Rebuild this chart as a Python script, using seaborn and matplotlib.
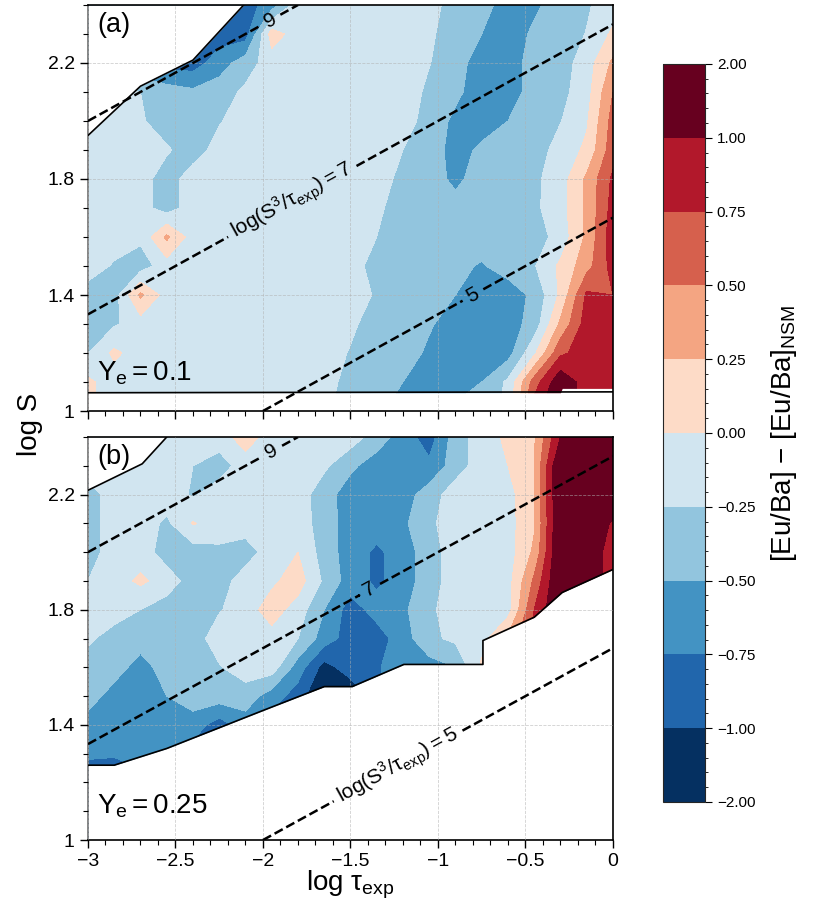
import numpy as np
import matplotlib
matplotlib.use("Agg")
import matplotlib.pyplot as plt
import seaborn as sns
from matplotlib.colors import ListedColormap, BoundaryNorm
from matplotlib.ticker import MultipleLocator, FixedLocator, FuncFormatter

# ---------------- data ----------------
log_tau = [-3.0, -2.85, -2.7, -2.55, -2.4, -2.25, -2.1, -1.95, -1.8, -1.65, -1.5,
           -1.35, -1.2, -1.05, -0.9, -0.75, -0.6, -0.45, -0.3, -0.15, 0.0]
log_S = [1.0, 1.1, 1.2, 1.3, 1.4, 1.5, 1.6, 1.7, 1.8, 1.9, 2.0, 2.1, 2.2, 2.3, 2.4]

# [Eu/Ba] - [Eu/Ba]_NSM, Ye = 0.1 ; rows from log S = 2.4 (top) down to 1.0
eu_ba_ye010_rows = [
    [-0.62,-0.62,-0.62,-0.62,-0.75,-0.87,-0.87,-0.62,-0.12,-0.12,-0.12,-0.12,-0.12,-0.12,-0.40,-0.40,-0.62,-0.55,-0.37,-0.28,-0.12],
    [-0.62,-0.62,-0.62,-0.75,-0.87,-0.87,-0.87, 0.12,-0.12,-0.12,-0.12,-0.12,-0.12,-0.20,-0.40,-0.50,-0.65,-0.45,-0.37,-0.24, 0.05],
    [-0.62,-0.62,-0.75,-0.87,-0.87,-0.62,-0.37,-0.12,-0.12,-0.12,-0.12,-0.12,-0.12,-0.24,-0.40,-0.62,-0.62,-0.40,-0.37,-0.12, 0.30],
    [-0.12,-0.12,-0.25,-0.37,-0.45,-0.37,-0.20,-0.12,-0.12,-0.12,-0.12,-0.12,-0.12,-0.30,-0.45,-0.62,-0.62,-0.40,-0.33,-0.10, 0.50],
    [-0.12,-0.12,-0.22,-0.37,-0.37,-0.27,-0.12,-0.12,-0.12,-0.12,-0.12,-0.12,-0.12,-0.37,-0.55,-0.62,-0.50,-0.37,-0.26,-0.03, 0.60],
    [-0.12,-0.12,-0.12,-0.22,-0.37,-0.15,-0.12,-0.12,-0.12,-0.12,-0.12,-0.12,-0.25,-0.37,-0.60,-0.45,-0.37,-0.37,-0.15, 0.05, 0.65],
    [-0.12,-0.12,-0.15,-0.37,-0.12,-0.12,-0.12,-0.12,-0.12,-0.12,-0.12,-0.12,-0.33,-0.40,-0.55,-0.40,-0.37,-0.30,-0.12, 0.30, 0.80],
    [-0.12,-0.12,-0.15,-0.37,-0.12,-0.12,-0.12,-0.12,-0.12,-0.12,-0.12,-0.20,-0.37,-0.40,-0.42,-0.40,-0.37,-0.30,-0.10, 0.30, 0.85],
    [-0.12,-0.12,-0.20, 0.30,-0.12,-0.12,-0.12,-0.12,-0.12,-0.12,-0.12,-0.25,-0.37,-0.42,-0.42,-0.40,-0.37,-0.37,-0.15, 0.30, 0.90],
    [-0.12,-0.28,-0.37,-0.12,-0.12,-0.12,-0.12,-0.12,-0.12,-0.12,-0.12,-0.37,-0.37,-0.42,-0.45,-0.52,-0.40,-0.27, 0.05, 0.40, 0.85],
    [-0.37,-0.37, 0.30,-0.12,-0.12,-0.12,-0.12,-0.12,-0.12,-0.12,-0.12,-0.28,-0.37,-0.40,-0.50,-0.62,-0.62,-0.45, 0.05, 0.80, 0.75],
    [-0.37,-0.28,-0.12,-0.12,-0.12,-0.12,-0.12,-0.12,-0.12,-0.12,-0.20,-0.37,-0.40,-0.47,-0.62,-0.65,-0.62,-0.40, 0.30, 0.87, 0.80],
    [-0.25, 0.05,-0.12,-0.12,-0.12,-0.12,-0.12,-0.12,-0.12,-0.12,-0.27,-0.37,-0.37,-0.55,-0.62,-0.62,-0.60,-0.05, 0.70, 0.87, 0.75],
    [ 0.05,-0.12,-0.12,-0.12,-0.12,-0.12,-0.12,-0.12,-0.12,-0.12,-0.37,-0.37,-0.50,-0.62,-0.62,-0.50,-0.20, 0.62, 1.20, 0.87, 0.87],
    [ 0.05,-0.12,-0.12,-0.12,-0.12,-0.12,-0.12,-0.12,-0.12,-0.20,-0.37,-0.45,-0.62,-0.62,-0.45,-0.37,-0.20, 0.90, 1.30, 0.87, 0.87],
]

# [Eu/Ba] - [Eu/Ba]_NSM, Ye = 0.25 ; rows from log S = 2.4 (top) down to 1.0
eu_ba_ye025_rows = [
    [-0.12,-0.12,-0.12,-0.12,-0.12,-0.12, 0.12,-0.12,-0.12,-0.12,-0.12,-0.37,-0.62,-0.87,-0.37,-0.12, 0.05, 0.22, 1.00, 1.30, 1.30],
    [-0.12,-0.12,-0.12,-0.12,-0.25,-0.37,-0.12,-0.12,-0.12,-0.20,-0.45,-0.62,-0.62,-0.70,-0.37,-0.12, 0.00, 0.25, 1.30, 1.30, 1.30],
    [-0.37,-0.12,-0.12,-0.12,-0.28,-0.12,-0.12,-0.12,-0.12,-0.40,-0.62,-0.62,-0.62,-0.37,-0.12,-0.12,-0.10, 0.25, 1.30, 1.30, 1.30],
    [-0.37,-0.12,-0.12,-0.30, 0.02,-0.12,-0.12,-0.12,-0.12,-0.37,-0.62,-0.62,-0.55,-0.30,-0.12,-0.12,-0.10, 0.22, 1.30, 1.30, 0.95],
    [-0.37,-0.12,-0.12,-0.37,-0.37,-0.30,-0.37,-0.12, 0.00,-0.37,-0.62,-0.80,-0.62,-0.37,-0.12,-0.12,-0.12, 0.30, 1.30, 1.30, 0.80],
    [-0.25,-0.12, 0.05,-0.12,-0.37,-0.37,-0.12,-0.05, 0.12,-0.30,-0.62,-0.80,-0.62,-0.37,-0.12,-0.12,-0.10, 0.55, 1.30, 1.30, 0.80],
    [-0.12,-0.12,-0.25,-0.37,-0.37,-0.27,-0.12, 0.12,-0.12,-0.50,-0.87,-0.65,-0.55,-0.30,-0.12,-0.12,-0.10, 0.75, 1.30, 1.30, 1.30],
    [-0.20,-0.37,-0.37,-0.37,-0.37,-0.12,-0.12,-0.10,-0.25,-0.62,-0.87,-0.87,-0.62,-0.30,-0.20,-0.10, 0.30, 0.85, 1.30, 1.30, 1.30],
    [-0.37,-0.37,-0.62,-0.37,-0.37,-0.27,-0.12,-0.12,-0.62,-1.10,-0.87,-0.80,-0.50,-0.62,-0.50, 0.05, 0.37, 0.87, 1.30, 1.30, 1.30],
    [-0.37,-0.62,-0.62,-0.50,-0.37,-0.37,-0.37,-0.62,-0.87,-1.30,-1.20,-0.87,-0.50,-0.62,-0.50, 0.05, 0.37, 0.87, 1.30, 1.30, 1.30],
    [-0.62,-0.62,-0.62,-0.62,-0.62,-0.87,-0.62,-0.87,-0.87,-1.20,-0.95,-0.87,-0.60,-0.60,-0.50, 0.05, 0.37, 0.87, 1.30, 1.30, 1.30],
    [-0.70,-0.72,-0.62,-0.62,-0.87,-0.87,-0.87,-0.87,-0.87,-0.95,-0.95,-0.87,-0.60,-0.60,-0.50, 0.05, 0.37, 0.87, 1.30, 1.30, 1.30],
    [-0.95,-0.95,-0.87,-0.87,-0.87,-0.87,-0.87,-0.87,-0.87,-0.95,-0.95,-0.87,-0.60,-0.60,-0.50, 0.05, 0.37, 0.87, 1.30, 1.30, 1.30],
    [-0.95,-0.95,-0.87,-0.87,-0.87,-0.87,-0.87,-0.87,-0.87,-0.95,-0.95,-0.87,-0.60,-0.60,-0.50, 0.05, 0.37, 0.87, 1.30, 1.30, 1.30],
    [-0.95,-0.95,-0.87,-0.87,-0.87,-0.87,-0.87,-0.87,-0.87,-0.95,-0.95,-0.87,-0.60,-0.60,-0.50, 0.05, 0.37, 0.87, 1.30, 1.30, 1.30],
]

# simulated-domain boundaries (outside = no data)
a_top_x = [-3.0, -2.70, -2.40, -2.11]
a_top_y = [1.95, 2.12, 2.21, 2.40]
a_bot_x = [-3.0, -0.30, -0.29, 0.0]
a_bot_y = [1.063, 1.063, 1.078, 1.078]
a_line_x = [-3.0, 0.0]
a_line_y = [1.063, 1.066]

b_top_x = [-3.0, -2.69, -2.55]
b_top_y = [2.215, 2.307, 2.40]
b_bot_x = [-3.0, -2.85, -2.55, -2.0, -1.65, -1.49, -1.195, -0.743, -0.743, -0.45, -0.29, 0.0]
b_bot_y = [1.26, 1.26, 1.318, 1.45, 1.533, 1.533, 1.61, 1.61, 1.693, 1.774, 1.86, 1.94]

# constant log(S^3/tau_exp) guide lines
guide_levels = [5, 7, 9]
a_label_pos = [(-0.80, 1.40), (-1.83, 1.72), (-1.96, 2.347)]
b_label_pos = [(-1.23, 1.26), (-1.39, 1.87), (-1.95, 2.35)]

levels = [-2, -1, -0.75, -0.5, -0.25, 0, 0.25, 0.5, 0.75, 1, 2]
colors = ['#053061', '#2166ac', '#4393c3', '#92c5de', '#d1e5f0',
          '#fddbc7', '#f4a582', '#d6604d', '#b2182b', '#67001f']

# ---------------- style ----------------
sns.set_style("ticks")
plt.rcParams['font.family'] = ['Liberation Sans', 'DejaVu Sans']
plt.rcParams['mathtext.fontset'] = 'custom'
plt.rcParams['mathtext.rm'] = 'Liberation Sans'
plt.rcParams['mathtext.it'] = 'Liberation Sans:italic'
plt.rcParams['mathtext.bf'] = 'Liberation Sans:bold'
for key in ['text.color', 'axes.labelcolor', 'xtick.color', 'ytick.color']:
    plt.rcParams[key] = 'black'

cmap = ListedColormap(colors)
norm = BoundaryNorm(levels, cmap.N)

fig = plt.figure(figsize=(8.3, 9.23), dpi=100)
ax1 = fig.add_axes([0.106, 0.5547, 0.6325, 0.4399])
ax2 = fig.add_axes([0.106, 0.0899, 0.6325, 0.4366])
cax = fig.add_axes([0.7988, 0.1311, 0.0506, 0.7996])

X, Y = np.meshgrid(np.array(log_tau), np.array(log_S))
gx, gy = np.meshgrid(np.linspace(-3, 0, 61), np.linspace(1.0, 2.4, 57))
G = 3 * gy - gx

tick_fmt = FuncFormatter(lambda v, p: f'{round(v, 2) + 0:g}'.replace('-', '\u2212'))


def long_label(c):
    return r'$\mathregular{log(S^3/\tau_{exp}) = %d}$' % c


panels = [
    (ax1, eu_ba_ye010_rows, a_top_x, a_top_y, a_bot_x, a_bot_y, a_line_x, a_line_y,
     a_label_pos, {5: '5', 7: long_label(7), 9: '9'}, '(a)', r'$\mathregular{Y_e = 0.1}$',
     0.983, 0.074),
    (ax2, eu_ba_ye025_rows, b_top_x, b_top_y, b_bot_x, b_bot_y, b_bot_x, b_bot_y,
     b_label_pos, {5: long_label(5), 7: '7', 9: '9'}, '(b)', r'$\mathregular{Y_e = 0.25}$',
     0.983, 0.067),
]

cf = None
for (ax, rows, tx, ty, bx, by, lx, ly, lpos, fmt, tag, ye, tag_y, ye_y) in panels:
    Z = np.array(rows[::-1])
    cf = ax.contourf(X, Y, Z, levels=levels, cmap=cmap, norm=norm, zorder=1)
    ax.fill_between(tx, ty, 2.4, color='white', lw=0, zorder=2)
    ax.fill_between(bx, 1.0, by, color='white', lw=0, zorder=2)
    ax.plot(tx, ty, color='k', lw=1.2, zorder=3)
    ax.plot(lx, ly, color='k', lw=1.2, zorder=3)
    cs = ax.contour(gx, gy, G, levels=guide_levels, colors='k',
                    linestyles='--', linewidths=1.8, zorder=4)
    ax.clabel(cs, fmt=fmt, manual=lpos, inline=True, fontsize=15, inline_spacing=6)
    ax.set_xlim(-3, 0)
    ax.set_ylim(1.0, 2.4)
    ax.xaxis.set_major_locator(MultipleLocator(0.5))
    ax.xaxis.set_minor_locator(MultipleLocator(0.1))
    ax.yaxis.set_major_locator(FixedLocator([1.0, 1.4, 1.8, 2.2]))
    ax.yaxis.set_minor_locator(MultipleLocator(0.1))
    ax.xaxis.set_major_formatter(tick_fmt)
    ax.yaxis.set_major_formatter(tick_fmt)
    ax.tick_params(which='major', direction='out', length=6, width=1, labelsize=14,
                   colors='k')
    ax.tick_params(which='minor', direction='out', length=3.5, width=0.8, colors='k')
    ax.set_axisbelow(False)
    ax.grid(True, which='major', color='#b0b0b0', linestyle='--', linewidth=0.6, alpha=0.6)
    for side in ['top', 'bottom', 'right']:
        ax.spines[side].set_color('k')
        ax.spines[side].set_linewidth(1.2)
    ax.spines['left'].set_color('#707070')
    ax.spines['left'].set_linewidth(1.2)
    ax.text(0.018, tag_y, tag, transform=ax.transAxes, fontsize=19.5, color='k',
            ha='left', va='top', zorder=6)
    ax.text(0.018, ye_y, ye, transform=ax.transAxes, fontsize=20, color='k',
            ha='left', va='baseline', zorder=6)

ax1.tick_params(labelbottom=False)

fig.text(0.036, 0.54, 'log S', rotation=90, fontsize=20, ha='center', va='center', color='k')
fig.text(0.422, 0.041, r'log $\mathregular{\tau_{exp}}$', fontsize=20, ha='center',
         va='center', color='k')

cb = fig.colorbar(cf, cax=cax, ticks=levels, spacing='uniform')
cb.ax.yaxis.set_major_formatter(FuncFormatter(lambda v, p: f'{v:.2f}'.replace('-', '\u2212')))
minor_vals = ([-2 + 0.2 * i for i in range(1, 5)] + [-1 + 0.05 * i for i in range(1, 40) if i % 5]
              + [1 + 0.2 * i for i in range(1, 5)])
cb.ax.yaxis.set_minor_locator(FixedLocator(minor_vals))
cb.ax.tick_params(which='major', labelsize=11, length=5, width=0.8, direction='out', colors='k')
cb.ax.tick_params(which='minor', length=2.5, width=0.6, direction='out', colors='k')
cb.outline.set_linewidth(0.8)
cb.set_label('[Eu/Ba] \u2212 [Eu/Ba]$_\\mathregular{NSM}$', fontsize=20, labelpad=10, color='k')

fig.savefig('out.png', dpi=100)
